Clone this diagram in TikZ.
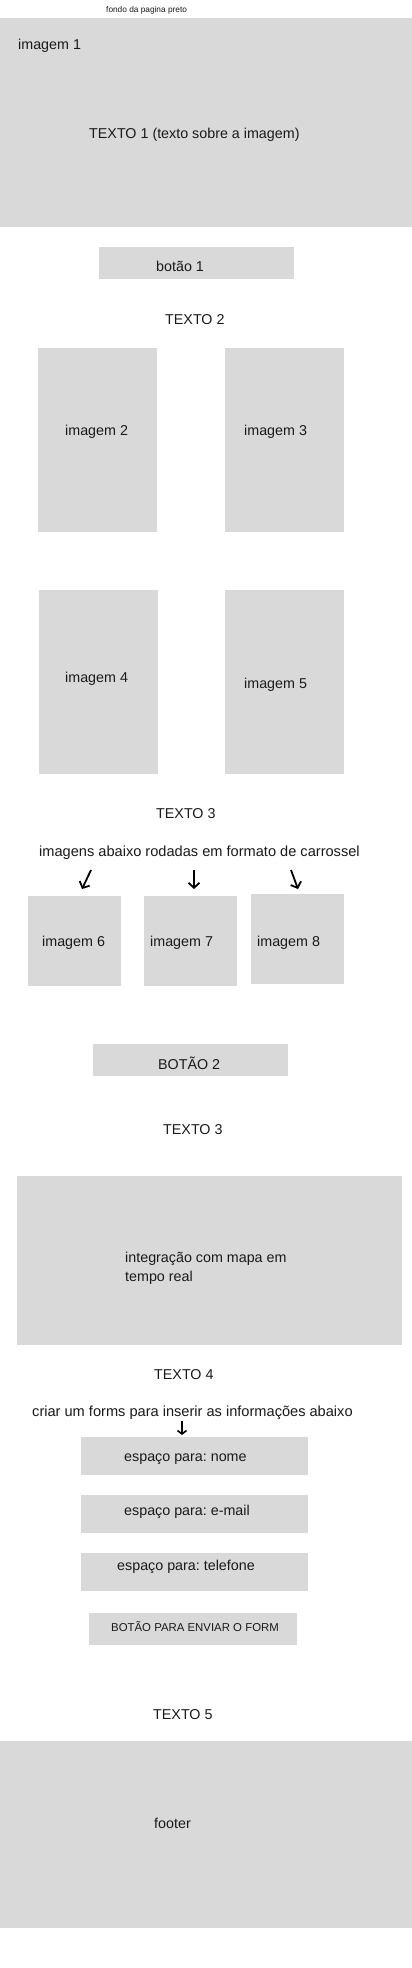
\documentclass[tikz,border=0pt]{standalone}
\usepackage{fontspec}
\setmainfont{Liberation Sans}
\usetikzlibrary{arrows.meta}
\definecolor{boxgray}{HTML}{D9D9D9}
\definecolor{ink}{HTML}{1A1A1A}
\tikzset{
  box/.style={fill=boxgray, draw=none, inner sep=0pt, outer sep=0pt, anchor=north west},
  lbl/.style={anchor=west, inner sep=0pt, yshift=-1.5pt, text=ink, font=\fontsize{14.3}{17}\selectfont},
  widelbl/.style={lbl, font=\fontsize{14.6}{17}\selectfont},
  small/.style={anchor=west, inner sep=0pt, text=ink, font=\fontsize{8.3}{10}\selectfont},
  btnlbl/.style={anchor=west, inner sep=0pt, yshift=-1pt, text=ink, font=\fontsize{11.4}{14}\selectfont},
  carr/.style={line width=1.8pt, black, -{Straight Barb[length=5pt,width=11pt,line width=1.8pt]}},
  farr/.style={line width=1.6pt, black, -{Straight Barb[length=3.5pt,width=9pt,line width=1.6pt]}}
}
\begin{document}
\frenchspacing
\begin{tikzpicture}[x=1pt,y=-1pt]
\useasboundingbox[fill=white] (0,0) rectangle (412,1968);

\node[small] (fondo) at (106,10.7) {fondo da pagina preto};

\node[box, minimum width=412pt, minimum height=209pt] (img1) at (0,17.7) {};
\node[lbl] (img1l) at (18,44) {imagem 1};
\node[lbl] (t1) at (89,133) {TEXTO 1 (texto sobre a imagem)};

\node[box, minimum width=195pt, minimum height=32pt] (b1) at (99,247) {};
\node[lbl] (b1l) at (156,265) {botão 1};

\node[lbl] (t2) at (165,318) {TEXTO 2};

\node[box, minimum width=119pt, minimum height=184pt] (img2) at (38,348) {};
\node[lbl] (img2l) at (65,430) {imagem 2};
\node[box, minimum width=119pt, minimum height=184pt] (img3) at (225,348) {};
\node[lbl] (img3l) at (244,430) {imagem 3};

\node[box, minimum width=119pt, minimum height=184pt] (img4) at (39,590) {};
\node[lbl] (img4l) at (65,677) {imagem 4};
\node[box, minimum width=119pt, minimum height=184pt] (img5) at (225,590) {};
\node[lbl] (img5l) at (244,683) {imagem 5};

\node[lbl] (t3) at (156,812) {TEXTO 3};
\node[widelbl] (carr) at (39,851) {imagens abaixo rodadas em formato de carrossel};

\coordinate (a1s) at (91,870);  \coordinate (a1e) at (82,889);
\coordinate (a2s) at (194,870); \coordinate (a2e) at (194,889);
\coordinate (a3s) at (291,870); \coordinate (a3e) at (298,889);
\draw[carr] (a1s) -- (a1e);
\draw[carr] (a2s) -- (a2e);
\draw[carr] (a3s) -- (a3e);

\node[box, minimum width=93pt, minimum height=90pt] (img6) at (28,896) {};
\node[lbl] (img6l) at (42,941) {imagem 6};
\node[box, minimum width=93pt, minimum height=90pt] (img7) at (144,896) {};
\node[lbl] (img7l) at (150,941) {imagem 7};
\node[box, minimum width=93pt, minimum height=90pt] (img8) at (251,894) {};
\node[lbl] (img8l) at (257,941) {imagem 8};

\node[box, minimum width=195pt, minimum height=32pt] (b2) at (93,1044) {};
\node[lbl] (b2l) at (158,1062) {BOTÃO 2};

\node[lbl] (t3b) at (163,1128) {TEXTO 3};

\node[box, minimum width=385pt, minimum height=169pt] (map) at (17,1176) {};
\node[lbl, align=left, font=\fontsize{14.3}{19}\selectfont] (mapl) at (125,1266.5) {integração com mapa em\\tempo real};

\node[lbl] (t4) at (154,1373) {TEXTO 4};
\node[widelbl] (forms) at (32,1411) {criar um forms para inserir as informações abaixo};
\coordinate (fs) at (182,1421); \coordinate (fe) at (182,1435);
\draw[farr] (fs) -- (fe);

\node[box, minimum width=227pt, minimum height=38pt] (nome) at (81,1437) {};
\node[lbl] (nomel) at (124,1458) {espaço para: nome};
\node[box, minimum width=227pt, minimum height=38pt] (email) at (81,1495) {};
\node[lbl] (emaill) at (124,1510) {espaço para: e-mail};
\node[box, minimum width=227pt, minimum height=38pt] (tel) at (81,1553) {};
\node[lbl] (tell) at (117,1565) {espaço para: telefone};

\node[box, minimum width=208pt, minimum height=32pt] (env) at (89,1613) {};
\node[btnlbl] (envl) at (111,1626) {BOTÃO PARA ENVIAR O FORM};

\node[lbl] (t5) at (153,1713) {TEXTO 5};

\node[box, minimum width=412pt, minimum height=187pt] (foot) at (0,1741) {};
\node[lbl] (footl) at (154,1822) {footer};
\end{tikzpicture}
\end{document}
